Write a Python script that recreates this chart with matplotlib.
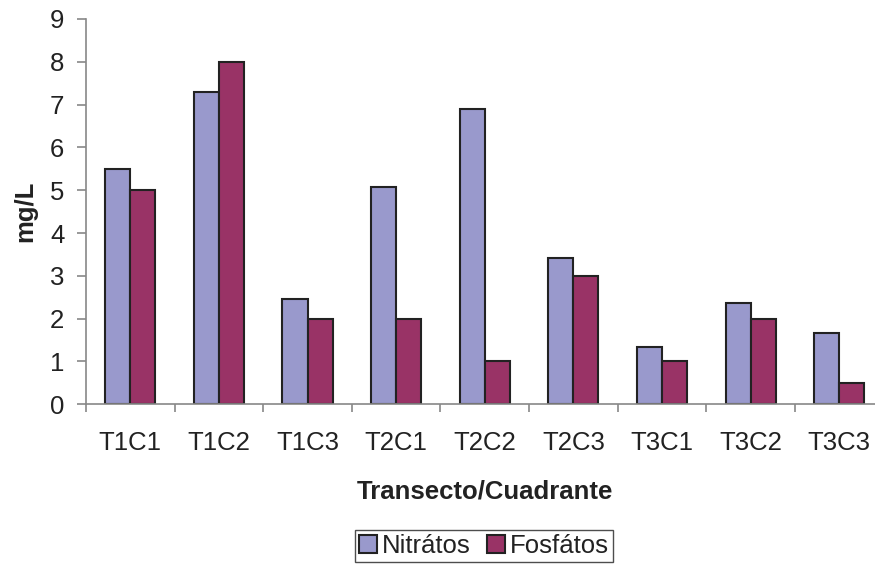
import matplotlib
matplotlib.use('Agg')
import matplotlib.pyplot as plt
import numpy as np

plt.rcParams['font.family'] = ['Liberation Sans', 'DejaVu Sans']

categories = ['T1C1', 'T1C2', 'T1C3', 'T2C1', 'T2C2', 'T2C3', 'T3C1', 'T3C2', 'T3C3']
nitratos = [5.5, 7.3, 2.46, 5.08, 6.89, 3.41, 1.33, 2.37, 1.67]
fosfatos = [5.0, 8.0, 2.0, 2.0, 1.0, 3.0, 1.0, 2.0, 0.5]

fs = 18.5

fig = plt.figure(figsize=(8.75, 5.65), dpi=100)
ax = fig.add_axes([0.0983, 0.2844, 0.9115, 0.682])

x = np.arange(len(categories))
w = 0.283
ax.bar(x - w / 2, nitratos, w, color='#9999CC', edgecolor='#222222', linewidth=1.5, label='Nitrátos')
ax.bar(x + w / 2, fosfatos, w, color='#993366', edgecolor='#222222', linewidth=1.5, label='Fosfátos')

ax.set_xlim(-0.5, len(categories) - 0.5)
ax.set_ylim(0, 9)
ax.set_yticks(range(0, 10))
ax.set_xticks(x)
ax.set_xticklabels(categories)
# tick marks sit between the categories
ax.set_xticks(np.arange(len(categories) + 1) - 0.5, minor=True)

for s in ['top', 'right']:
    ax.spines[s].set_visible(False)
for s in ['left', 'bottom']:
    ax.spines[s].set_color('#888888')
    ax.spines[s].set_linewidth(1.2)

ax.tick_params(axis='y', length=6.5, width=1.2, color='#888888', labelsize=fs, pad=9,
               labelcolor='#222222')
ax.tick_params(axis='x', which='major', length=0, labelsize=fs, pad=19.5, labelcolor='#222222')
ax.tick_params(axis='x', which='minor', length=5.5, width=1.2, color='#888888')

ax.set_ylabel('mg/L', fontsize=fs, fontweight='bold', labelpad=9, color='#222222')
ax.set_xlabel('Transecto/Cuadrante', fontsize=fs, fontweight='bold', labelpad=17, color='#222222')

leg = fig.legend(loc='center', bbox_to_anchor=(484 / 875, 1 - 546 / 565), ncol=2,
                 fontsize=fs, frameon=True, fancybox=False, handlelength=0.7,
                 handleheight=0.7, handletextpad=0.2, columnspacing=0.65,
                 borderpad=0.15, borderaxespad=0)
leg.get_frame().set_edgecolor('#222222')
leg.get_frame().set_linewidth(1.0)
for t in leg.get_texts():
    t.set_color('#222222')

fig.savefig('out.png', dpi=100)
